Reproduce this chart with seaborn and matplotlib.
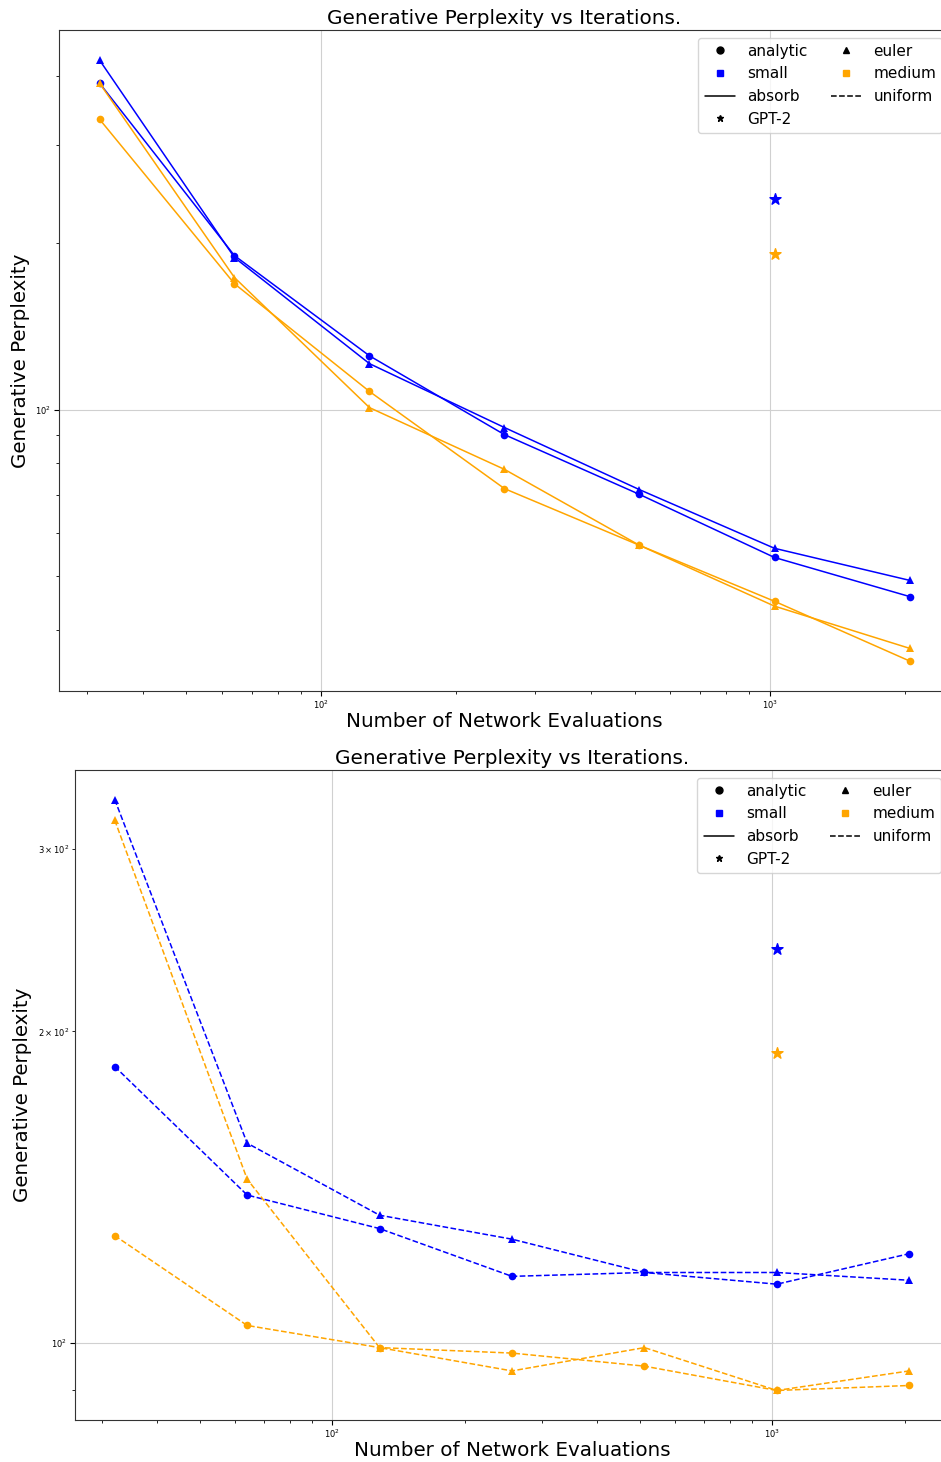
import matplotlib
matplotlib.use("Agg")
import matplotlib.pyplot as plt
from matplotlib.lines import Line2D
import seaborn as sns
import pandas as pd

# number of network evaluations
steps = [32, 64, 128, 256, 512, 1024, 2048]

# absorb (top panel)
absorb_small_analytic = [388, 189.5, 125, 90.1, 70.3, 54.1, 46.0]
absorb_small_euler = [427, 188, 121, 92.8, 71.7, 56.2, 49.2]
absorb_medium_analytic = [334, 168.6, 107.8, 72.0, 56.9, 45.1, 35.2]
absorb_medium_euler = [388, 173, 100.8, 78.0, 56.9, 44.2, 37.1]

# uniform (bottom panel)
uniform_small_analytic = [185, 139, 129, 116, 117, 114, 122]
uniform_small_euler = [335, 156, 132.9, 126, 117, 117, 115]
uniform_medium_analytic = [127, 104, 99, 97.8, 95, 90, 91]
uniform_medium_euler = [320, 144, 99, 94, 99, 90, 94]

# GPT-2 reference
gpt2_steps = 1024
gpt2_small = 240
gpt2_medium = 190.6

colors = {"small": "blue", "medium": "orange"}
markers = {"analytic": "o", "euler": "^"}

panels = [
    ("-", {("small", "analytic"): absorb_small_analytic,
           ("small", "euler"): absorb_small_euler,
           ("medium", "analytic"): absorb_medium_analytic,
           ("medium", "euler"): absorb_medium_euler}),
    ("--", {("small", "analytic"): uniform_small_analytic,
            ("small", "euler"): uniform_small_euler,
            ("medium", "analytic"): uniform_medium_analytic,
            ("medium", "euler"): uniform_medium_euler}),
]

sns.set_style("white", {"text.color": "black", "axes.labelcolor": "black",
                        "xtick.color": "black", "ytick.color": "black"})
plt.rcParams["font.family"] = ["DejaVu Sans"]

fig = plt.figure(figsize=(9.41, 14.62), dpi=100)
rects = [[59 / 941, 1 - 691 / 1462, 891 / 941, 661 / 1462],
         [75 / 941, 1 - 1420 / 1462, 874 / 941, 650 / 1462]]

for rect, (ls, series) in zip(rects, panels):
    ax = fig.add_axes(rect)
    for (size, sampler), vals in series.items():
        df = pd.DataFrame({"steps": steps, "ppl": vals})
        sns.lineplot(data=df, x="steps", y="ppl", ax=ax, color=colors[size],
                     marker=markers[sampler], markersize=5.5, linestyle=ls,
                     linewidth=1.1, markeredgewidth=0)
    ax.scatter([gpt2_steps], [gpt2_small], marker="*", s=70, color="blue", zorder=3)
    ax.scatter([gpt2_steps], [gpt2_medium], marker="*", s=70, color="orange", zorder=3)
    ax.set_xscale("log")
    ax.set_yscale("log")
    ax.grid(True, which="major", color="#d0d0d0", linewidth=0.8)
    for s in ax.spines.values():
        s.set_color("#333333")
    ax.tick_params(which="both", labelsize=6, left=True, bottom=True,
                   direction="out", pad=2)
    ax.tick_params(which="major", length=3.5)
    ax.tick_params(which="minor", length=2)
    ax.set_title("Generative Perplexity vs Iterations.", fontsize=14.4, pad=4)
    ax.set_xlabel("Number of Network Evaluations", fontsize=14.3, labelpad=1)
    ax.set_ylabel("Generative Perplexity", fontsize=14.3)

    handles = [
        Line2D([], [], color="black", marker="o", linestyle="none", markersize=5),
        Line2D([], [], color="blue", marker="s", linestyle="none", markersize=5),
        Line2D([], [], color="black", linestyle="-", linewidth=1.1),
        Line2D([], [], color="black", marker="*", linestyle="none", markersize=5),
        Line2D([], [], color="black", marker="^", linestyle="none", markersize=5),
        Line2D([], [], color="orange", marker="s", linestyle="none", markersize=5),
        Line2D([], [], color="black", linestyle="--", linewidth=1.1),
    ]
    labels = ["analytic", "small", "absorb", "GPT-2", "euler", "medium", "uniform"]
    ax.legend(handles, labels, ncol=2, loc="upper right", fontsize=11,
              columnspacing=1.5)

fig.savefig("out.png", dpi=100)
